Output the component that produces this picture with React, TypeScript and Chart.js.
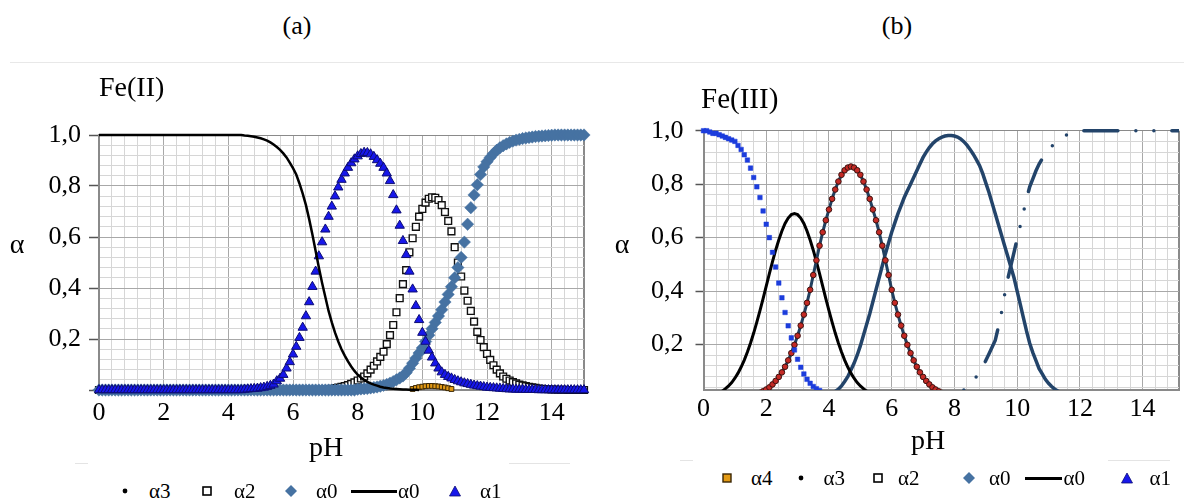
import React, { useEffect, useRef } from 'react';
import { Chart, registerables } from 'chart.js';

Chart.register(...registerables);

const SERIF = "'Liberation Serif', 'Times New Roman', Times, serif";

// ================= (a) Fe(II) =================
const phA = [
  0, 0.1, 0.2, 0.3, 0.4, 0.5, 0.6, 0.7, 0.8, 0.9,
  1, 1.1, 1.2, 1.3, 1.4, 1.5, 1.6, 1.7, 1.8, 1.9,
  2, 2.1, 2.2, 2.3, 2.4, 2.5, 2.6, 2.7, 2.8, 2.9,
  3, 3.1, 3.2, 3.3, 3.4, 3.5, 3.6, 3.7, 3.8, 3.9,
  4, 4.1, 4.2, 4.3, 4.4, 4.5, 4.6, 4.7, 4.8, 4.9,
  5, 5.1, 5.2, 5.3, 5.4, 5.5, 5.6, 5.7, 5.8, 5.9,
  6, 6.1, 6.2, 6.3, 6.4, 6.5, 6.6, 6.7, 6.8, 6.9,
  7, 7.1, 7.2, 7.3, 7.4, 7.5, 7.6, 7.7, 7.8, 7.9,
  8, 8.1, 8.2, 8.3, 8.4, 8.5, 8.6, 8.7, 8.8, 8.9,
  9, 9.1, 9.2, 9.3, 9.4, 9.5, 9.6, 9.7, 9.8, 9.9,
  10, 10.1, 10.2, 10.3, 10.4, 10.5, 10.6, 10.7, 10.8, 10.9,
  11, 11.1, 11.2, 11.3, 11.4, 11.5, 11.6, 11.7, 11.8, 11.9,
  12, 12.1, 12.2, 12.3, 12.4, 12.5, 12.6, 12.7, 12.8, 12.9,
  13, 13.1, 13.2, 13.3, 13.4, 13.5, 13.6, 13.7, 13.8, 13.9,
  14, 14.1, 14.2, 14.3, 14.4, 14.5, 14.6, 14.7, 14.8, 14.9,
  15,
];

// black line (α0)
const alpha0LineA = [
  1, 1, 1, 1, 1, 1, 1, 1, 1, 1,
  1, 1, 1, 1, 1, 1, 1, 1, 1, 1,
  1, 1, 1, 1, 1, 1, 1, 1, 1, 1,
  1, 1, 1, 1, 1, 1, 1, 1, 1, 1,
  1, 1, 1, 1, 1, 0.998, 0.997, 0.995, 0.993, 0.99,
  0.987, 0.983, 0.978, 0.971, 0.963, 0.953, 0.942, 0.928, 0.912, 0.892,
  0.87, 0.845, 0.81, 0.77, 0.725, 0.67, 0.61, 0.545, 0.48, 0.42,
  0.365, 0.31, 0.265, 0.225, 0.19, 0.16, 0.135, 0.112, 0.092, 0.075,
  0.06, 0.049, 0.04, 0.032, 0.026, 0.021, 0.017, 0.013, 0.01, 0.008,
  0.006, 0.005, 0.004, 0.003, 0.002, 0.002, 0.001, 0.001, 0.001, 0,
];

// blue triangles (α1)
const alpha1A = [
  0, 0, 0, 0, 0, 0, 0, 0, 0, 0,
  0, 0, 0, 0, 0, 0, 0, 0, 0, 0,
  0, 0, 0, 0, 0, 0, 0, 0, 0, 0,
  0, 0, 0, 0, 0, 0, 0, 0, 0, 0,
  0, 0, 0, 0, 0, 0.002, 0.003, 0.004, 0.005, 0.006,
  0.008, 0.01, 0.013, 0.017, 0.022, 0.035, 0.045, 0.06, 0.085, 0.11,
  0.14, 0.17, 0.205, 0.245, 0.29, 0.345, 0.405, 0.465, 0.525, 0.58,
  0.63, 0.68, 0.72, 0.76, 0.795, 0.825, 0.85, 0.872, 0.89, 0.905,
  0.917, 0.926, 0.931, 0.93, 0.925, 0.915, 0.902, 0.888, 0.872, 0.85,
  0.82, 0.765, 0.705, 0.645, 0.585, 0.53, 0.465, 0.395, 0.33, 0.275,
  0.225, 0.19, 0.155, 0.128, 0.105, 0.085, 0.07, 0.06, 0.052, 0.046,
  0.04, 0.035, 0.031, 0.027, 0.024, 0.021, 0.018, 0.016, 0.014, 0.012,
  0.01, 0.009, 0.008, 0.007, 0.006, 0.005, 0.004, 0.003, 0.003, 0.002,
  0.002, 0.002, 0.001, 0.001, 0.001, 0.001, 0, 0, 0, 0,
  0, 0, 0, 0, 0, 0, 0, 0, 0, 0,
  0,
];

// hollow squares (α2)
const alpha2A = [
  0, 0, 0, 0, 0, 0, 0, 0, 0, 0,
  0, 0, 0, 0, 0, 0, 0, 0, 0, 0,
  0, 0, 0, 0, 0, 0, 0, 0, 0, 0,
  0, 0, 0, 0, 0, 0, 0, 0, 0, 0,
  0, 0, 0, 0, 0, 0, 0, 0, 0, 0,
  0, 0, 0, 0, 0, 0, 0, 0, 0, 0,
  0, 0, 0, 0, 0, 0, 0, 0, 0, 0,
  0.003, 0.004, 0.005, 0.007, 0.009, 0.012, 0.015, 0.019, 0.024, 0.03,
  0.037, 0.045, 0.053, 0.065, 0.08, 0.095, 0.112, 0.13, 0.15, 0.18,
  0.215, 0.255, 0.305, 0.36, 0.415, 0.47, 0.54, 0.595, 0.64, 0.68,
  0.71, 0.735, 0.75, 0.756, 0.754, 0.745, 0.725, 0.698, 0.663, 0.622,
  0.56, 0.5, 0.445, 0.39, 0.35, 0.31, 0.268, 0.228, 0.196, 0.168,
  0.142, 0.118, 0.097, 0.08, 0.065, 0.053, 0.044, 0.037, 0.031, 0.026,
  0.021, 0.018, 0.015, 0.012, 0.01, 0.008, 0.006, 0.005, 0.004, 0.003,
  0.002, 0.002, 0.001, 0.001, 0.001, 0, 0, 0, 0, 0,
  0,
];

// steel-blue diamonds (α0)
const alpha0A = [
  0, 0, 0, 0, 0, 0, 0, 0, 0, 0,
  0, 0, 0, 0, 0, 0, 0, 0, 0, 0,
  0, 0, 0, 0, 0, 0, 0, 0, 0, 0,
  0, 0, 0, 0, 0, 0, 0, 0, 0, 0,
  0, 0, 0, 0, 0, 0, 0, 0, 0, 0,
  0, 0, 0, 0, 0, 0, 0, 0, 0, 0,
  0, 0, 0, 0, 0, 0, 0, 0, 0, 0,
  0, 0, 0, 0, 0, 0, 0, 0, 0, 0,
  0.003, 0.004, 0.005, 0.006, 0.008, 0.01, 0.012, 0.015, 0.018, 0.022,
  0.027, 0.033, 0.04, 0.047, 0.055, 0.068, 0.085, 0.105, 0.125, 0.145,
  0.165, 0.19, 0.215, 0.24, 0.265, 0.29, 0.315, 0.345, 0.375, 0.405,
  0.44, 0.48, 0.52, 0.58, 0.65, 0.715, 0.765, 0.805, 0.845, 0.875,
  0.895, 0.912, 0.927, 0.94, 0.95, 0.958, 0.965, 0.971, 0.976, 0.98,
  0.983, 0.986, 0.988, 0.99, 0.992, 0.994, 0.995, 0.996, 0.997, 0.998,
  0.999, 1, 1, 1, 1, 1, 1, 1, 1, 1,
  1,
];

// small orange squares near the baseline (pH 9.7 – 10.9)
const alpha4StartA = 97;
const alpha4A = [0.004, 0.008, 0.011, 0.013, 0.015, 0.016, 0.016, 0.015, 0.014, 0.012, 0.01, 0.007, 0.004];

// ================= (b) Fe(III) =================
const phB = [
  0, 0.1, 0.2, 0.3, 0.4, 0.5, 0.6, 0.7, 0.8, 0.9,
  1, 1.1, 1.2, 1.3, 1.4, 1.5, 1.6, 1.7, 1.8, 1.9,
  2, 2.1, 2.2, 2.3, 2.4, 2.5, 2.6, 2.7, 2.8, 2.9,
  3, 3.1, 3.2, 3.3, 3.4, 3.5, 3.6, 3.7, 3.8, 3.9,
  4, 4.1, 4.2, 4.3, 4.4, 4.5, 4.6, 4.7, 4.8, 4.9,
  5, 5.1, 5.2, 5.3, 5.4, 5.5, 5.6, 5.7, 5.8, 5.9,
  6, 6.1, 6.2, 6.3, 6.4, 6.5, 6.6, 6.7, 6.8, 6.9,
  7, 7.1, 7.2, 7.3, 7.4, 7.5, 7.6, 7.7, 7.8, 7.9,
  8, 8.1, 8.2, 8.3, 8.4, 8.5, 8.6, 8.7, 8.8, 8.9,
  9, 9.1, 9.2, 9.3, 9.4, 9.5, 9.6, 9.7, 9.8, 9.9,
  10, 10.1, 10.2, 10.3, 10.4, 10.5, 10.6, 10.7, 10.8, 10.9,
  11, 11.1, 11.2, 11.3, 11.4, 11.5, 11.6, 11.7, 11.8, 11.9,
  12, 12.1, 12.2, 12.3, 12.4, 12.5, 12.6, 12.7, 12.8, 12.9,
  13, 13.1, 13.2, 13.3, 13.4, 13.5, 13.6, 13.7, 13.8, 13.9,
  14, 14.1, 14.2, 14.3, 14.4, 14.5, 14.6, 14.7, 14.8, 14.9,
  15, 15.1, 15.2,
];

// blue dotted curve, pH 0.0 – 3.7
const blueStartB = 0;
const blueB = [
  1, 1, 0.995, 0.99, 0.99, 0.985, 0.98, 0.975, 0.97, 0.965,
  0.96, 0.945, 0.93, 0.91, 0.89, 0.86, 0.825, 0.79, 0.75, 0.7,
  0.65, 0.6, 0.545, 0.49, 0.43, 0.375, 0.32, 0.27, 0.225, 0.18,
  0.145, 0.115, 0.09, 0.07, 0.055, 0.043, 0.035, 0.028,
];

// black line, pH 0.4 – 5.4
const blackStartB = 4;
const blackB = [
  0.015, 0.02, 0.026, 0.035, 0.045, 0.058,
  0.074, 0.093, 0.116, 0.142, 0.172, 0.206, 0.243, 0.284, 0.327, 0.372,
  0.419, 0.465, 0.51, 0.553, 0.591, 0.625, 0.653, 0.673, 0.686, 0.69,
  0.686, 0.673, 0.653, 0.625, 0.591, 0.553, 0.51, 0.465, 0.419, 0.372,
  0.327, 0.284, 0.243, 0.206, 0.172, 0.142, 0.116, 0.093, 0.074, 0.058,
  0.045, 0.035, 0.026, 0.02, 0.015,
];

// red-dotted curve on a dark line, pH 1.8 – 7.6
const redStartB = 18;
const redB = [
  0.019, 0.025,
  0.032, 0.04, 0.051, 0.064, 0.079, 0.096, 0.117, 0.141, 0.168, 0.199,
  0.233, 0.271, 0.312, 0.356, 0.405, 0.46, 0.515, 0.57, 0.62, 0.665,
  0.705, 0.745, 0.78, 0.81, 0.835, 0.852, 0.862, 0.866, 0.862, 0.852,
  0.835, 0.81, 0.78, 0.745, 0.705, 0.665, 0.62, 0.57, 0.515, 0.46,
  0.405, 0.356, 0.312, 0.271, 0.233, 0.199, 0.168, 0.141, 0.117, 0.096,
  0.079, 0.064, 0.051, 0.04, 0.032, 0.025, 0.019,
];

// navy solid line, pH 4.2 – 11.4
const navyStartB = 42;
const navyB = [
  0.025, 0.033, 0.045, 0.062, 0.08, 0.105, 0.13, 0.16,
  0.195, 0.235, 0.275, 0.315, 0.36, 0.405, 0.45, 0.495, 0.54, 0.58,
  0.62, 0.655, 0.69, 0.72, 0.75, 0.775, 0.8, 0.825, 0.85, 0.875,
  0.9, 0.92, 0.937, 0.951, 0.962, 0.97, 0.976, 0.98, 0.982, 0.982,
  0.98, 0.976, 0.969, 0.959, 0.946, 0.93, 0.912, 0.892, 0.87, 0.84,
  0.805, 0.77, 0.73, 0.69, 0.65, 0.61, 0.57, 0.53, 0.49, 0.45,
  0.4, 0.35, 0.3, 0.25, 0.205, 0.17, 0.14, 0.11, 0.09, 0.07,
  0.055, 0.043, 0.033, 0.026, 0.02,
];

// navy dash-dot rising curve, pH 8.3 – 15.2
const dashStartB = 83;
const dashB = [
  0.03, 0.04, 0.05, 0.065, 0.08, 0.095, 0.115,
  0.14, 0.165, 0.19, 0.215, 0.265, 0.32, 0.386, 0.445, 0.495, 0.545,
  0.595, 0.645, 0.695, 0.745, 0.79, 0.82, 0.85, 0.875, 0.895, 0.91,
  0.925, 0.94, 0.955, 0.965, 0.973, 0.98, 0.985, 0.989, 0.992, 0.995,
  0.997,
  1, 1, 1, 1, 1, 1, 1, 1, 1,
  1, 1, 1, 1, 1, 1, 1, 1, 1, 1,
  1, 1, 1, 1, 1, 1, 1, 1, 1, 1,
  1, 1, 1,
];

// ================= axis labels =================
const xLabelValues = [0, 2, 4, 6, 8, 10, 12, 14];
const xLabelText = ['0', '2', '4', '6', '8', '10', '12', '14'];
const yLabelValues = [0.2, 0.4, 0.6, 0.8, 1.0];
const yLabelText = ['0,2', '0,4', '0,6', '0,8', '1,0'];

// ================= helpers =================
const MINOR = '#d6d6d6';
const MAJOR = '#a8a8a8';
const EDGE = '#8a8a8a';

const near = (a: number, b: number) => Math.abs(a - b) < 1e-6;
const isMult = (v: number, m: number) => Math.abs(v / m - Math.round(v / m)) < 1e-6;

function gridValues(min: number, max: number, step: number): number[] {
  const out: number[] = [];
  const n = Math.floor((max - min) / step + 1e-6);
  for (let i = 0; i <= n; i++) out.push(Math.round((min + i * step) * 1e4) / 1e4);
  if (out[out.length - 1] < max - 1e-6) out.push(max);
  return out;
}

const pts = (xs: number[], ys: number[], start: number) => ys.map((y, i) => ({ x: xs[start + i], y }));

type ScaleParams = {
  xMax: number;
  yMin: number;
  yWidth: number;
  xHeight: number;
  yTickLen: number;
  yPad: number;
  xPad: number;
  zeroTick: boolean;
};

function scalesFor(p: ScaleParams) {
  const xs = gridValues(0, p.xMax, 0.4);
  const ys = [p.yMin, ...gridValues(0, 1, 0.04).filter((v) => v > p.yMin + 1e-6)];
  const font = { family: SERIF, size: 26 };
  return {
    x: {
      type: 'linear',
      min: 0,
      max: p.xMax,
      afterBuildTicks: (s: any) => {
        s.ticks = xs.map((value) => ({ value }));
      },
      afterFit: (s: any) => {
        s.height = p.xHeight;
      },
      ticks: {
        autoSkip: false,
        maxRotation: 0,
        minRotation: 0,
        padding: p.xPad,
        color: '#000',
        font,
        callback: (v: any) => {
          const i = xLabelValues.findIndex((t) => near(t, Number(v)));
          return i >= 0 ? xLabelText[i] : '';
        },
      },
      grid: {
        drawTicks: false,
        color: (c: any) => {
          const v = c.tick ? c.tick.value : 0;
          if (near(v, p.xMax)) return EDGE;
          return isMult(v, 2) ? MAJOR : MINOR;
        },
        lineWidth: (c: any) => (c.tick && near(c.tick.value, p.xMax) ? 2 : 1),
      },
      border: { display: true, color: EDGE, width: 2 },
    },
    y: {
      type: 'linear',
      min: p.yMin,
      max: 1,
      afterBuildTicks: (s: any) => {
        s.ticks = ys.map((value) => ({ value }));
      },
      afterFit: (s: any) => {
        s.width = p.yWidth;
      },
      ticks: {
        autoSkip: false,
        padding: p.yPad,
        color: '#000',
        font,
        callback: (v: any) => {
          const i = yLabelValues.findIndex((t) => near(t, Number(v)));
          return i >= 0 ? yLabelText[i] : '';
        },
      },
      grid: {
        tickLength: p.yTickLen,
        tickWidth: 1.5,
        tickColor: (c: any) => {
          const v = c.tick ? c.tick.value : -1;
          const show = v >= 0 && isMult(v, 0.2) && (p.zeroTick || v > 0.01);
          return show ? '#555' : 'rgba(0,0,0,0)';
        },
        color: (c: any) => {
          const v = c.tick ? c.tick.value : 0;
          if (near(v, 1)) return EDGE;
          return isMult(v, 0.2) ? MAJOR : MINOR;
        },
      },
      border: { display: true, color: EDGE, width: 2 },
    },
  };
}

function configA(): any {
  const datasets = [
    {
      label: 'α0',
      data: pts(phA, alpha0LineA, 0),
      showLine: true,
      borderColor: '#000',
      borderWidth: 2.5,
      pointRadius: 0,
      order: 0,
    },
    {
      label: 'α1',
      data: pts(phA, alpha1A, 0),
      pointStyle: 'triangle',
      pointRadius: 5.4,
      pointBackgroundColor: '#1717ea',
      pointBorderColor: '#0d0d73',
      pointBorderWidth: 1,
      order: 1,
    },
    {
      label: 'α0',
      data: pts(phA, alpha0A, 0),
      pointStyle: 'rectRot',
      pointRadius: 6.2,
      pointBackgroundColor: '#4672a2',
      pointBorderColor: '#4672a2',
      pointBorderWidth: 0.5,
      order: 2,
    },
    {
      label: 'α2',
      data: pts(phA, alpha2A, 0),
      pointStyle: 'rect',
      pointRadius: 4.8,
      pointBackgroundColor: '#fff',
      pointBorderColor: '#111',
      pointBorderWidth: 1.4,
      order: 3,
    },
    {
      label: 'α4',
      data: pts(phA, alpha4A, alpha4StartA),
      pointStyle: 'rect',
      pointRadius: 3.4,
      pointBackgroundColor: '#e39a14',
      pointBorderColor: '#3a2604',
      pointBorderWidth: 1,
      order: 4,
    },
  ].map((d) => ({ ...d, clip: false }));

  return {
    type: 'scatter',
    data: { datasets },
    options: {
      responsive: false,
      animation: false,
      events: [],
      layout: { padding: { top: 35, right: 16, left: 0, bottom: 0 } },
      plugins: { legend: { display: false }, tooltip: { enabled: false }, title: { display: false } },
      scales: scalesFor({ xMax: 15, yMin: 0, yWidth: 99, xHeight: 50, yTickLen: 10, yPad: 8, xPad: 8, zeroTick: true }),
    },
  };
}

function configB(): any {
  const clipB = { left: 12, top: 12, right: 0, bottom: 0 };
  const datasets = [
    {
      label: 'α1',
      data: pts(phB, blueB, blueStartB),
      pointStyle: 'rect',
      pointRadius: 3.2,
      pointBackgroundColor: '#1c3ddc',
      pointBorderColor: '#1c3ddc',
      pointBorderWidth: 0.5,
      order: 0,
    },
    {
      label: 'α2',
      data: pts(phB, redB, redStartB),
      showLine: true,
      borderColor: '#22405f',
      borderWidth: 3,
      pointRadius: 2.8,
      pointBackgroundColor: '#c42a25',
      pointBorderColor: '#3c1210',
      pointBorderWidth: 1,
      order: 1,
    },
    {
      label: 'α3',
      data: pts(phB, blackB, blackStartB),
      showLine: true,
      borderColor: '#000',
      borderWidth: 3,
      pointRadius: 0,
      order: 2,
    },
    {
      label: 'α0',
      data: pts(phB, navyB, navyStartB),
      showLine: true,
      borderColor: '#23446a',
      borderWidth: 3.5,
      pointRadius: 0,
      order: 3,
    },
    {
      label: 'α0',
      data: pts(phB, dashB, dashStartB),
      showLine: true,
      borderColor: '#23446a',
      borderWidth: 3.5,
      borderDash: [34, 18, 0, 18, 0, 18],
      borderDashOffset: 52,
      borderCapStyle: 'round',
      pointRadius: 0,
      order: 4,
    },
  ].map((d) => ({ ...d, clip: clipB }));

  return {
    type: 'scatter',
    data: { datasets },
    options: {
      responsive: false,
      animation: false,
      events: [],
      layout: { padding: { top: 30.7, right: 0, left: 0, bottom: 0 } },
      plugins: { legend: { display: false }, tooltip: { enabled: false }, title: { display: false } },
      scales: scalesFor({ xMax: 15.16, yMin: 0.03, yWidth: 103.5, xHeight: 50, yTickLen: 8, yPad: 12, xPad: 4, zeroTick: false }),
    },
  };
}

// ================= components =================
function ChartCanvas(props: { left: number; top: number; width: number; height: number; make: () => any }) {
  const ref = useRef<HTMLCanvasElement | null>(null);
  useEffect(() => {
    const chart = new Chart(ref.current as HTMLCanvasElement, props.make());
    return () => chart.destroy();
  }, []);
  return (
    <canvas
      ref={ref}
      width={props.width}
      height={props.height}
      style={{ position: 'absolute', left: props.left, top: props.top, width: props.width, height: props.height }}
    />
  );
}

function Txt(props: { x: number; y: number; size: number; children: React.ReactNode; anchor?: 'left' | 'center' }) {
  const tx = props.anchor === 'left' ? '0' : '-50%';
  return (
    <div
      style={{
        position: 'absolute',
        left: props.x,
        top: props.y,
        transform: `translate(${tx}, -50%)`,
        fontSize: props.size,
        lineHeight: 1,
        whiteSpace: 'nowrap',
        color: '#000',
        fontFamily: SERIF,
      }}
    >
      {props.children}
    </div>
  );
}

function Marker(props: { kind: string; x: number; y: number }) {
  const s = 14;
  let shape: React.ReactNode = null;
  if (props.kind === 'dot') shape = <circle cx={7} cy={7} r={2.4} fill="#000" />;
  if (props.kind === 'square') shape = <rect x={3} y={3} width={8} height={8} fill="#fff" stroke="#000" strokeWidth={1.6} />;
  if (props.kind === 'osquare') shape = <rect x={3} y={3} width={8} height={8} fill="#e39a14" stroke="#3a2604" strokeWidth={1.4} />;
  if (props.kind === 'diamond') shape = <polygon points="7,1 13,7 7,13 1,7" fill="#4672a2" />;
  if (props.kind === 'triangle') shape = <polygon points="7,2 12.5,12 1.5,12" fill="#1717ea" stroke="#0d0d73" strokeWidth={0.8} />;
  return (
    <svg width={s} height={s} style={{ position: 'absolute', left: props.x - s / 2, top: props.y - s / 2 }}>
      {shape}
    </svg>
  );
}

function HLine(props: { x1: number; x2: number; y: number; h: number; color: string }) {
  return (
    <div
      style={{
        position: 'absolute',
        left: props.x1,
        top: props.y - props.h / 2,
        width: props.x2 - props.x1,
        height: props.h,
        background: props.color,
      }}
    />
  );
}

export default function App() {
  const LA = 491;
  const LB = 478;
  return (
    <div
      style={{
        position: 'absolute',
        left: 0,
        top: 0,
        width: 1184,
        height: 500,
        background: '#fff',
        overflow: 'hidden',
        fontFamily: SERIF,
      }}
    >
      <HLine x1={10} x2={1184} y={62} h={1} color="#e8e8e8" />
      <HLine x1={75} x2={88} y={463} h={1} color="#e4e4e4" />
      <HLine x1={509} x2={570} y={463} h={1} color="#e4e4e4" />
      <HLine x1={680} x2={693} y={460} h={1} color="#e4e4e4" />
      <HLine x1={1108} x2={1170} y={460} h={1} color="#e4e4e4" />

      <ChartCanvas left={0} top={100} width={600} height={340} make={configA} />
      <ChartCanvas left={600} top={100} width={584} height={340} make={configB} />

      <Txt x={297} y={26} size={26}>(a)</Txt>
      <Txt x={897} y={26} size={26}>(b)</Txt>
      <Txt x={99} y={87} size={28} anchor="left">Fe(II)</Txt>
      <Txt x={701} y={98} size={29} anchor="left">Fe(III)</Txt>
      <Txt x={17} y={243.5} size={28}>α</Txt>
      <Txt x={622} y={243.5} size={28}>α</Txt>
      <Txt x={326} y={447} size={28}>pH</Txt>
      <Txt x={928} y={440} size={28}>pH</Txt>

      {/* legend (a) */}
      <Marker kind="dot" x={124.5} y={LA} />
      <Txt x={149} y={LA} size={21} anchor="left">α3</Txt>
      <Marker kind="square" x={207} y={LA} />
      <Txt x={234} y={LA} size={21} anchor="left">α2</Txt>
      <Marker kind="diamond" x={291} y={LA} />
      <Txt x={316} y={LA} size={21} anchor="left">α0</Txt>
      <HLine x1={351} x2={397} y={LA} h={3} color="#000" />
      <Txt x={398} y={LA} size={21} anchor="left">α0</Txt>
      <Marker kind="triangle" x={455} y={LA} />
      <Txt x={480} y={LA} size={21} anchor="left">α1</Txt>

      {/* legend (b) */}
      <Marker kind="osquare" x={727} y={LB} />
      <Txt x={751} y={LB} size={21} anchor="left">α4</Txt>
      <Marker kind="dot" x={801} y={LB} />
      <Txt x={823.5} y={LB} size={21} anchor="left">α3</Txt>
      <Marker kind="square" x={877.5} y={LB} />
      <Txt x={898} y={LB} size={21} anchor="left">α2</Txt>
      <Marker kind="diamond" x={969} y={LB} />
      <Txt x={989} y={LB} size={21} anchor="left">α0</Txt>
      <HLine x1={1024.5} x2={1062} y={LB} h={3} color="#000" />
      <Txt x={1063.5} y={LB} size={21} anchor="left">α0</Txt>
      <Marker kind="triangle" x={1127} y={LB} />
      <Txt x={1149.5} y={LB} size={21} anchor="left">α1</Txt>
    </div>
  );
}
